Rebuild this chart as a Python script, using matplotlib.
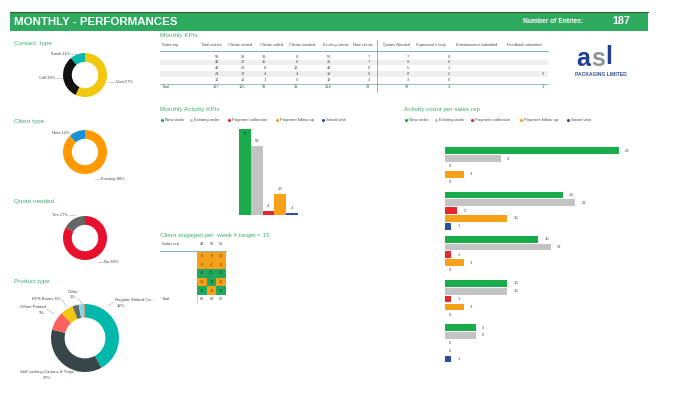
import matplotlib
matplotlib.use('Agg')
import matplotlib.pyplot as plt
from matplotlib import font_manager
from matplotlib.patches import Rectangle
from matplotlib.colors import ListedColormap
import numpy as np

# ---------------- data ----------------
header_title = "MONTHLY - PERFORMANCES"
entries_label = "Number of Entries:"
entries_total = 187

kpi_columns = ["Sales rep", "Total entries", "Clients visited", "Clients called", "Clients emailed",
               "Existing clients", "New clients", "Quotes Needed", "Supervisor's help",
               "Entertainment submitted", "Feedback submitted"]
total_entries = [59, 42, 46, 24, 16]
clients_visited = [28, 27, 23, 17, 10]
clients_called = [31, 15, 8, 4, 1]
clients_emailed = [0, 0, 12, 4, 5]
existing_clients = [52, 35, 46, 18, 13]
new_clients = [7, 7, 0, 6, 3]
quotes_needed = [7, 9, 5, 8, 3]
supervisor_help = [0, 0, 1, 2, 0]
entertainment_submitted = [None, None, None, None, None]
feedback_submitted = [None, None, None, 3, None]

contact_labels = ["Visit", "Call", "Email"]
contact_share = [57, 32, 11]
client_labels = ["Existing", "New"]
client_share = [88, 12]
quote_labels = ["No", "Yes"]
quote_share = [83, 17]
product_labels = ["Regular Slotted Ca...", "Self Locking Cartons & Trays", "Offset Printed",
                  "EPS Boxes", "", "", "Other"]
product_share = [42, 37, 9, 6, 3, 2, 1]

activity_types = ["New order", "Existing order", "Payment collection", "Payment follow up", "Social visit"]
monthly_activity = [77, 62, 4, 19, 2]

rep_new_order = [28, 19, 15, 10, 5]
rep_existing_order = [9, 21, 17, 10, 5]
rep_payment_collection = [0, 2, 1, 1, 0]
rep_payment_follow_up = [3, 10, 3, 3, 0]
rep_social_visit = [0, 1, 0, 0, 1]

weeks = [49, 50, 51]
engaged_week49 = [8, 8, 21, 12, 16]
engaged_week50 = [8, 4, 22, 16, 13]
engaged_week51 = [10, 4, 16, 12, 15]
engagement_target = 15

# ---------------- style ----------------
names = {f.name for f in font_manager.fontManager.ttflist}
NARROW = 'Liberation Sans Narrow' if 'Liberation Sans Narrow' in names else 'Liberation Sans'
plt.rcParams['font.family'] = ['Liberation Sans', 'DejaVu Sans']

GREEN_HDR = '#2eaa5f'
TITLE_C = '#3fae72'
TXT = '#4a4a4a'
act_colors = ['#1aab4b', '#c3c3c3', '#e8262d', '#f7a11a', '#2b4ea2']

W, H = 700, 393
fig = plt.figure(figsize=(7, 3.93), dpi=100)
fig.patch.set_facecolor('white')
ax0 = fig.add_axes([0, 0, 1, 1])
ax0.set_xlim(0, W)
ax0.set_ylim(H, 0)
ax0.axis('off')


def px_axes(x, y, w, h):
    a = fig.add_axes([x / W, 1 - (y + h) / H, w / W, h / H])
    return a


def T(x, y, s, size=3, color=TXT, ha='left', va='center', **kw):
    return ax0.text(x, y, s, fontsize=size, color=color, ha=ha, va=va, **kw)


def fit_width(t, target_px):
    fig.canvas.draw()
    r = fig.canvas.get_renderer()
    w = t.get_window_extent(r).width
    if w > 0:
        t.set_fontsize(t.get_fontsize() * target_px / w)


# ---------------- header ----------------
ax0.add_patch(Rectangle((10, 12), 638, 19, color=GREEN_HDR, lw=0))
ax0.plot([10, 648], [12.3, 12.3], color='#2a5a3a', lw=0.8)
t1 = ax0.text(14, 22, header_title, fontsize=9, color='white', fontweight='bold',
              family=[NARROW, 'DejaVu Sans'], va='center')
t2 = ax0.text(583, 21.5, entries_label, fontsize=5, color='white', fontweight='bold',
              family=[NARROW, 'DejaVu Sans'], va='center', ha='right')
t3 = ax0.text(630, 21.5, str(entries_total), fontsize=8, color='white', fontweight='bold',
              family=[NARROW, 'DejaVu Sans'], va='center', ha='right')
fit_width(t1, 164)
fit_width(t2, 61)
fit_width(t3, 18)

# ---------------- KPI table ----------------
T(160, 36, "Monthly KPIs", size=4.6, color=TITLE_C)
cols = [total_entries, clients_visited, clients_called, clients_emailed, existing_clients,
        new_clients, quotes_needed, supervisor_help, entertainment_submitted, feedback_submitted]
hdr_x = [211, 240, 271, 302, 336, 363, 396, 431, 477, 524]
num_x = [219, 245, 266, 298, 331, 370, 409, 450, 500, 544]
row_y = [56.7, 62.4, 68.2, 74.0, 79.8]
tot_y = 87.3
for yy in (row_y[1], row_y[3]):
    ax0.add_patch(Rectangle((160, yy - 2.9), 388, 5.8, color='#efefef', lw=0))
T(162, 45, kpi_columns[0], size=2.8)
for i, (hx, nx, col) in enumerate(zip(hdr_x, num_x, cols)):
    T(hx, 45, kpi_columns[i + 1], size=2.8, ha='center')
    for yy, v in zip(row_y, col):
        if v is not None:
            T(nx, yy, str(v), size=2.8, ha='right')
    vals = [v for v in col if v is not None]
    if vals:
        T(nx, tot_y, str(sum(vals)), size=2.8, ha='right')
T(162, tot_y, "Total", size=2.8)
ax0.plot([160, 548], [51, 51], color='#6aa8a6', lw=0.6)
ax0.plot([160, 548], [83.6, 83.6], color='#6aa8a6', lw=0.5)
ax0.plot([377, 377], [40, 92], color='#9a9a9a', lw=0.6)

# ---------------- logo ----------------
ax0.text(576, 59, "a", fontsize=18, color='#1f3f8f', fontweight='bold', va='center', ha='left')
ax0.text(591, 59, "s", fontsize=18, color='#8f9499', fontweight='bold', va='center', ha='left')
ax0.text(605, 57, "l", fontsize=18, color='#1f3f8f', fontweight='bold', va='center', ha='left')
T(601, 74, "PACKAGING LIMITED", size=3.6, color='#2f4f8f', ha='center', fontweight='bold')


# ---------------- donuts ----------------
def donut(cx, cy, r, vals, colors, width=0.4):
    a = px_axes(cx - r, cy - r, 2 * r, 2 * r)
    a.pie(vals, colors=colors, startangle=90, counterclock=False, radius=1,
          wedgeprops=dict(width=width, linewidth=0))
    a.set_xlim(-1, 1)
    a.set_ylim(-1, 1)
    a.set_aspect('equal')
    a.axis('off')
    return a


def leader(x1, y1, x2, y2):
    ax0.plot([x1, x2], [y1, y2], color='#aaaaaa', lw=0.4)


T(14, 43, "Contact  type", size=4.6, color=TITLE_C)
donut(85, 75, 22, contact_share, ['#f2c80f', '#111111', '#01b8aa'])
T(70, 54, f"{contact_labels[2]} {contact_share[2]}%", ha='right')
leader(71, 54, 76, 54)
T(55, 78, f"{contact_labels[1]} {contact_share[1]}%", ha='right')
leader(56, 78, 62, 78)
T(116, 82, f"{contact_labels[0]} {contact_share[0]}%", ha='left')
leader(108, 82, 115, 82)

T(14, 122, "Client type", size=4.6, color=TITLE_C)
donut(85, 152, 22, client_share, ['#fe9a00', '#1a8fd6'])
T(70, 133, f"{client_labels[1]} {client_share[1]}%", ha='right')
leader(71, 133, 76, 133)
T(101, 179, f"{client_labels[0]} {client_share[0]}%", ha='left')
leader(95, 179, 100, 179)

T(14, 201, "Quote needed", size=4.6, color=TITLE_C)
donut(85, 238, 22, quote_share, ['#e8112d', '#666666'])
T(68, 215, f"{quote_labels[1]} {quote_share[1]}%", ha='right')
leader(69, 215, 75, 215)
T(104, 262, f"{quote_labels[0]} {quote_share[0]}%", ha='left')
leader(98, 262, 103, 262)

T(14, 282, "Product type", size=4.6, color=TITLE_C)
donut(85, 338, 34, product_share,
      ['#01b8aa', '#374649', '#fd625e', '#f2c80f', '#5f6b6d', '#8ad4eb', '#c9a27e'])
T(115, 300, product_labels[0], ha='left', size=3.1)
T(117, 306, f"{product_share[0]}%", ha='left', size=3.1)
leader(114, 302, 108, 306)
T(47, 372, product_labels[1], ha='center', size=3.1)
T(47, 378, f"{product_share[1]}%", ha='center', size=3.1)
leader(77, 372, 80, 369)
T(46, 307, product_labels[2], ha='right', size=3.1)
T(45, 313, f"{product_share[2]}%", ha='right', size=3.1)
leader(47, 309, 54, 314)
T(61, 299, f"{product_labels[3]} {product_share[3]}%", ha='right', size=3.1)
leader(62, 300, 67, 307)
T(73, 292, product_labels[6], ha='center', size=3.1)
T(73, 297.5, f"{product_share[6]}%", ha='center', size=3.1)
leader(77, 298, 83, 304)


# ---------------- legends ----------------
def legend(xs, y, labels, colors):
    for x, lab, c in zip(xs, labels, colors):
        ax0.scatter([x], [y], s=5, color=c, lw=0, zorder=3)
        T(x + 2.8, y, lab, size=3.1)


T(160, 110, "Monthly Activity KPIs", size=4.6, color=TITLE_C)
legend([162, 191, 229, 277, 323], 120, activity_types, act_colors)
T(404, 110, "Activity count per sales rep", size=4.6, color=TITLE_C)
legend([406, 436, 472, 521, 568], 120, activity_types, act_colors)

# ---------------- Monthly activity bars ----------------
axb = px_axes(239, 125.6, 59, 89.4)
xs = np.arange(len(monthly_activity))
axb.bar(xs, monthly_activity, width=1.0, color=act_colors, lw=0)
axb.set_xlim(-0.5, len(xs) - 0.5)
axb.set_ylim(0, 80)
axb.axis('off')
vmax = max(monthly_activity)
for x, v in zip(xs, monthly_activity):
    if v == vmax:
        axb.text(x, v - 2.5, str(v), ha='center', va='top', fontsize=3, color='#333333')
    else:
        axb.text(x, v + 2.5, str(v), ha='center', va='bottom', fontsize=3, color=TXT, clip_on=False)

# ---------------- per sales rep bars ----------------
rep_series = [rep_new_order, rep_existing_order, rep_payment_collection,
              rep_payment_follow_up, rep_social_visit]
gap = 5.65
y_top = -0.55
y_bot = 4 * gap + 4 + 0.55
unit = 7.83
axr = px_axes(445, 150.7 + y_top * unit, 40 * 6.21, (y_bot - y_top) * unit)
for j, (ser, c) in enumerate(zip(rep_series, act_colors)):
    ys = np.arange(len(ser)) * gap + j
    axr.barh(ys, ser, height=0.86, color=c, lw=0)
    for yv, v in zip(ys, ser):
        axr.text(v + 1.0 if v > 0 else 0.6, yv, str(v), va='center', ha='left',
                 fontsize=3, color=TXT)
axr.set_xlim(0, 40)
axr.set_ylim(y_bot, y_top)
axr.axis('off')

# ---------------- client engaged heatmap ----------------
T(160, 235, "Client engaged per  week # target = 15", size=4.6, color=TITLE_C)
engaged = np.array([engaged_week49, engaged_week50, engaged_week51]).T  # rows = reps
T(162, 244, "Sales rep", size=2.9)
col_cx = [202, 211.5, 221]
for cx, wk in zip(col_cx, weeks):
    T(cx, 244, str(wk), size=2.9, ha='center')
ax0.plot([160, 226], [251, 251], color='#6aa8a6', lw=0.6)
axh = px_axes(197, 252, 29, 43)
hit = (engaged >= engagement_target).astype(int)
orange_c, green_c = '#f5a01a', '#22a85a'
axh.pcolormesh(np.arange(4), np.arange(6), hit, cmap=ListedColormap([orange_c, green_c]),
               vmin=0, vmax=1, edgecolors='none')
for r in range(engaged.shape[0]):
    for c in range(engaged.shape[1]):
        axh.text(c + 0.5, r + 0.5, str(engaged[r, c]), ha='center', va='center', fontsize=2.9,
                 color='#0d4d27' if hit[r, c] else '#7a4300')
axh.set_xlim(0, 3)
axh.set_ylim(5, 0)
axh.axis('off')
T(162, 299, "Total", size=2.9)
for cx, tot in zip(col_cx, engaged.sum(axis=0)):
    T(cx, 299, str(tot), size=2.9, ha='center')
ax0.plot([197, 197], [296, 302], color='#9a9a9a', lw=0.4)

fig.savefig('out.png', dpi=100, facecolor='white')
